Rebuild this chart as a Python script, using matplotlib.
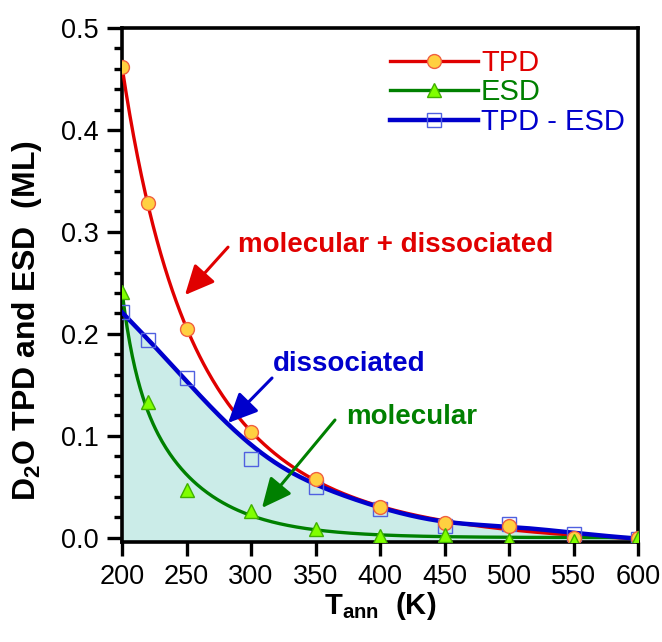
import numpy as np
import matplotlib
matplotlib.use("Agg")
import matplotlib.pyplot as plt
from matplotlib.ticker import MultipleLocator, FormatStrFormatter

plt.rcParams['font.family'] = ['Liberation Sans', 'DejaVu Sans']
plt.rcParams['mathtext.fontset'] = 'custom'
plt.rcParams['mathtext.rm'] = 'Liberation Sans'
plt.rcParams['mathtext.bf'] = 'Liberation Sans:bold'

T = [200, 220, 250, 300, 350, 400, 450, 500, 550, 600]
tpd = [0.462, 0.328, 0.205, 0.104, 0.058, 0.030, 0.014, 0.011, 0.000, 0.000]
esd = [0.241, 0.133, 0.047, 0.026, 0.008, 0.002, 0.003, -0.002, -0.003, 0.000]
diff = [0.221, 0.194, 0.157, 0.077, 0.050, 0.028, 0.011, 0.013, 0.004, -0.001]

x = np.array(T, float)
xs = np.linspace(200, 600, 400)


def expfit(y, taus, const=True):
    def basis(t):
        cols = [np.exp(-(t - 200) / tau) for tau in taus]
        if const:
            cols.append(np.ones_like(t))
        return np.column_stack(cols)
    c, *_ = np.linalg.lstsq(basis(x), np.array(y), rcond=None)
    return basis(xs) @ c


def loclin(y, h):
    y = np.array(y)
    out = []
    for q in xs:
        w = np.exp(-0.5 * ((x - q) / h) ** 2)
        W = w.sum()
        xm = (w * x).sum() / W
        ym = (w * y).sum() / W
        b = (w * (x - xm) * (y - ym)).sum() / (w * (x - xm) ** 2).sum()
        out.append(ym + b * (q - xm))
    return np.array(out)


tpd_fit = expfit(tpd, [25, 60, 150])
esd_fit = expfit(esd, [10, 48], const=False)
diff_fit = loclin(diff, 38)

RED, GREEN, BLUE = '#e00000', '#008000', '#0000cc'

fig = plt.figure(figsize=(6.62, 6.42), dpi=100)
ax = fig.add_axes([122 / 662, (642 - 541.7) / 642, (638 - 122) / 662, (541.7 - 28) / 642])

ax.fill_between(xs, diff_fit, -0.004, color='#cbece8', lw=0, zorder=1)
ax.plot(xs, tpd_fit, color=RED, lw=2.4, zorder=3)
ax.plot(xs, esd_fit, color=GREEN, lw=2.4, zorder=3)
ax.plot(xs, diff_fit, color=BLUE, lw=3.2, zorder=3)

ax.plot(T, diff, ls='none', marker='s', ms=10, mfc='none', mec='#5060e0', mew=1.0, zorder=4)
ax.plot(T, tpd, ls='none', marker='o', ms=10, mfc='#ffd040', mec='#f06040', mew=1.0, zorder=5)
ax.plot(T, esd, ls='none', marker='^', ms=10, mfc='#80ff00', mec='#40b000', mew=1.0, zorder=6)

h1, = ax.plot([], [], color=RED, lw=2.4, marker='o', ms=10, mfc='#ffd040', mec='#f06040')
h2, = ax.plot([], [], color=GREEN, lw=2.4, marker='^', ms=10, mfc='#80ff00', mec='#40b000')
h3, = ax.plot([], [], color=BLUE, lw=3.2, marker='s', ms=10, mfc='none', mec='#5060e0', mew=1.0)
leg = ax.legend([h1, h2, h3], ['TPD', 'ESD', 'TPD - ESD'], loc='upper left',
                bbox_to_anchor=((390 - 122) / 516, (541.7 - 49) / 513.7), frameon=False,
                fontsize=21, handlelength=3.0, handletextpad=0.12, labelspacing=0.05,
                borderpad=0, borderaxespad=0)
for t, c in zip(leg.get_texts(), [RED, GREEN, BLUE]):
    t.set_color(c)

arrow_kw = dict(arrowstyle='-|>,head_length=0.9,head_width=0.42', lw=2.2,
                shrinkA=0, shrinkB=0, mutation_scale=20)
ax.annotate('', xy=(248.8, 0.238), xytext=(282.2, 0.285),
            arrowprops=dict(color=RED, **arrow_kw))
ax.annotate('', xy=(282.2, 0.1125), xytext=(316.3, 0.1566),
            arrowprops=dict(color=BLUE, **arrow_kw))
ax.annotate('', xy=(308.5, 0.0291), xytext=(365.1, 0.1154),
            arrowprops=dict(color=GREEN, **arrow_kw))
ax.text(290, 0.287, 'molecular + dissociated', color=RED, fontsize=20,
        fontweight='bold', va='center', ha='left')
ax.text(317, 0.170, 'dissociated', color=BLUE, fontsize=20,
        fontweight='bold', va='center', ha='left')
ax.text(373.5, 0.118, 'molecular', color=GREEN, fontsize=20,
        fontweight='bold', va='center', ha='left')

ax.set_xlim(200, 600)
ax.set_ylim(-0.004, 0.5)
ax.xaxis.set_major_locator(MultipleLocator(50))
ax.yaxis.set_major_locator(MultipleLocator(0.1))
ax.yaxis.set_minor_locator(MultipleLocator(0.02))
ax.yaxis.set_major_formatter(FormatStrFormatter('%.1f'))
for s in ax.spines.values():
    s.set_linewidth(2.6)
ax.tick_params(axis='y', which='major', direction='out', length=11, width=2.4, labelsize=19.5, pad=6)
ax.tick_params(axis='x', which='major', direction='out', length=10, width=2.4, labelsize=19.5, pad=6)
ax.tick_params(axis='y', which='minor', direction='out', length=6, width=2.4)
ax.tick_params(top=False, right=False)

ax.set_xlabel(r'T$_{\mathbf{ann}}$  (K)', fontsize=21, fontweight='bold')
ax.set_ylabel(r'D$_{\mathbf{2}}$O TPD and ESD  (ML)', fontsize=23, fontweight='bold')
ax.xaxis.set_label_coords(0.5, -0.094)
ax.yaxis.set_label_coords(-0.151, 0.43)

fig.savefig('out.png', dpi=100)
